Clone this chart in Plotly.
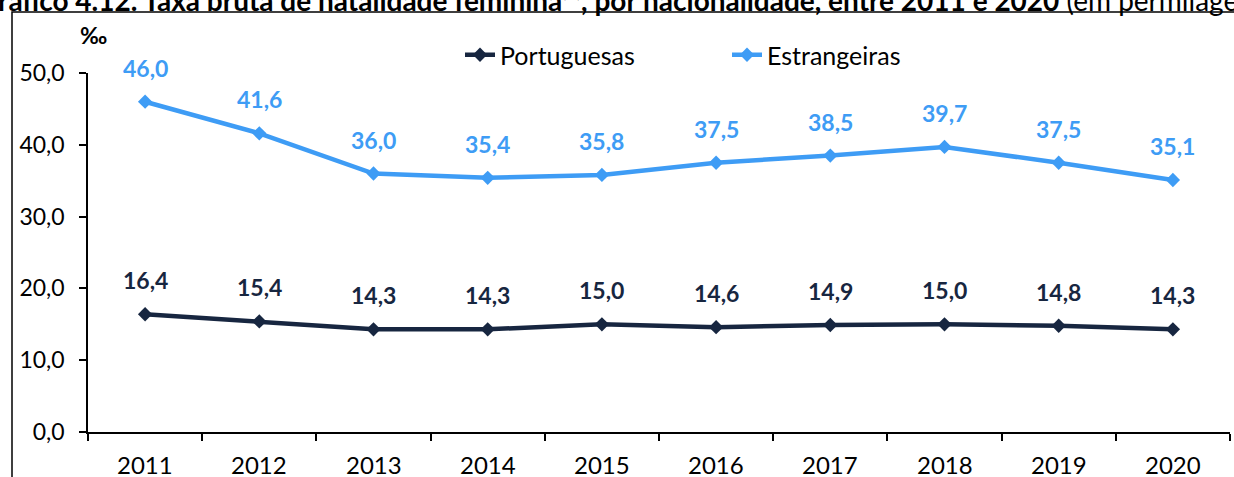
import plotly.graph_objects as go

years = ["2011", "2012", "2013", "2014", "2015", "2016", "2017", "2018", "2019", "2020"]
portuguesas = [16.4, 15.4, 14.3, 14.3, 15.0, 14.6, 14.9, 15.0, 14.8, 14.3]
estrangeiras = [46.0, 41.6, 36.0, 35.4, 35.8, 37.5, 38.5, 39.7, 37.5, 35.1]
y_ticks = [0, 10, 20, 30, 40, 50]

navy = "#172640"
blue = "#3e9cf5"
FONT = "Lato"

W, H = 1234, 477
left_px, right_px, top_px, bottom_px = 88, 1230, 73, 432   # plot area in page pixels
ml, mt = left_px, top_px
mr, mb = W - right_px, H - bottom_px
pw, ph = right_px - left_px, bottom_px - top_px


def px(xp):
    return (xp - left_px) / pw


def py(yp):
    return (bottom_px - yp) / ph


xs = list(range(len(years)))

fig = go.Figure()
fig.add_trace(go.Scatter(x=xs, y=portuguesas, name="Portuguesas", mode="lines+markers",
                         line=dict(color=navy, width=4.5),
                         marker=dict(symbol="diamond", size=11, color=navy)))
fig.add_trace(go.Scatter(x=xs, y=estrangeiras, name="Estrangeiras", mode="lines+markers",
                         line=dict(color=blue, width=4.5),
                         marker=dict(symbol="diamond", size=11, color=blue)))


def fmt(v):
    return f"{v:.1f}".replace(".", ",")


anns = []
for series, col in ((portuguesas, navy), (estrangeiras, blue)):
    for x, v in zip(xs, series):
        anns.append(dict(x=x, y=v, xref="x", yref="y", text=f"<b>{fmt(v)}</b>",
                         showarrow=False, yshift=34, font=dict(family=FONT, size=23, color=col)))

# category labels
for x, lab in zip(xs, years):
    anns.append(dict(x=x, y=0, xref="x", yref="y", text=lab, showarrow=False, yanchor="middle",
                     yshift=-32, font=dict(family=FONT, size=24, color="black")))

# per-mille unit
anns.append(dict(x=px(93), y=py(35), xref="paper", yref="paper", text="<b>‰</b>",
                 showarrow=False, xanchor="center", yanchor="middle",
                 font=dict(family=FONT, size=23, color="black")))

# title (partially cut off at top, as in the source crop)
anns.append(dict(x=px(-24), y=py(0), xref="paper", yref="paper",
                 text="<b>Gráfico 4.12. Taxa bruta de natalidade feminina⁽¹⁾, por nacionalidade, entre 2011 e 2020</b> (em permilagem)",
                 showarrow=False, xanchor="left", yanchor="middle", align="left",
                 font=dict(family=FONT, size=28, color="black")))

fig.update_layout(
    width=W, height=H,
    margin=dict(l=ml, r=mr, t=mt, b=mb),
    plot_bgcolor="white", paper_bgcolor="white",
    separators=",.",
    showlegend=True,
    legend=dict(orientation="h", x=px(460), y=py(55), xanchor="left", yanchor="middle",
                font=dict(family=FONT, size=25, color="black"), entrywidth=222,
                bgcolor="rgba(0,0,0,0)"),
    annotations=anns,
    shapes=[dict(type="rect", xref="paper", yref="paper",
                 x0=px(12), x1=px(1260), y0=py(520), y1=py(12),
                 line=dict(color="black", width=1.5), fillcolor="rgba(0,0,0,0)", layer="below")],
    xaxis=dict(range=[-0.5, len(years) - 0.5], showgrid=False, zeroline=False,
               showline=True, linecolor="black", linewidth=1.5,
               tickvals=xs, showticklabels=False, ticks="",
               minor=dict(ticks="outside", tick0=-0.5, dtick=1, ticklen=7, tickcolor="black",
                          tickwidth=1.5, showgrid=False)),
    yaxis=dict(range=[0, 50], tickvals=y_ticks, tickformat=".1f", showgrid=False, zeroline=False,
               showline=True, linecolor="black", linewidth=1.5, ticks="outside", ticklen=7,
               tickcolor="black", tickwidth=1.5, ticklabelstandoff=10,
               tickfont=dict(family=FONT, size=23, color="black")),
)

fig.write_html(
    "out.html",
    config={"displayModeBar": False},
    post_script="document.body.style.margin='0';document.body.style.overflow='hidden';"
                "document.documentElement.style.overflow='hidden';",
)
